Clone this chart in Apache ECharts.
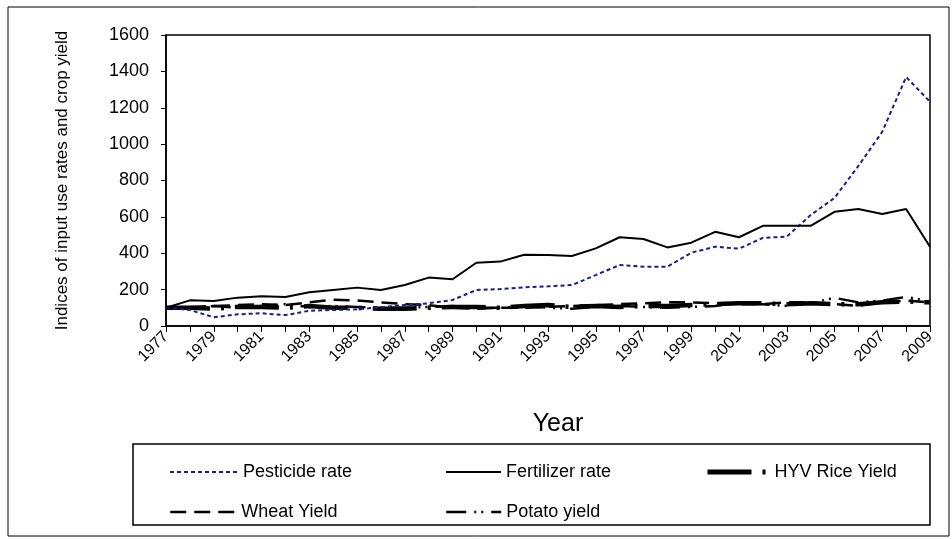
<!DOCTYPE html>
<html>
<head>
<meta charset="utf-8">
<script src="https://cdn.jsdelivr.net/npm/echarts@6/dist/echarts.min.js"></script>
<style>
  html, body { margin: 0; padding: 0; background: #fff; }
  #chart { width: 952px; height: 539px; }
</style>
</head>
<body>
<div id="chart"></div>
<script>
// years on the x axis
var years = [];
for (var y = 1977; y <= 2009; y++) years.push(String(y));

// index values (1977 = 100)
var pesticideRate = [100, 88, 48, 64, 70, 60, 84, 88, 92, 103, 115, 125, 143, 198, 203, 213, 218, 225, 280, 335, 326, 326, 403, 436, 425, 485, 491, 610, 704, 880, 1068, 1369, 1233];
var fertilizerRate = [100, 141, 137, 156, 163, 159, 185, 198, 211, 198, 225, 266, 257, 348, 354, 392, 390, 385, 427, 488, 478, 432, 458, 518, 488, 551, 551, 551, 628, 643, 616, 643, 436];
var riceYield = [100, 100, 95, 105, 105, 100, 110, 100, 100, 95, 95, 100, 105, 105, 100, 110, 115, 105, 110, 105, 110, 110, 115, 120, 125, 125, 120, 125, 120, 120, 130, 135, 130];
var wheatYield = [100, 105, 110, 115, 120, 115, 130, 145, 140, 130, 120, 115, 100, 95, 100, 100, 105, 110, 115, 120, 125, 130, 130, 125, 120, 120, 130, 130, 120, 110, 130, 140, 130];
var potatoYield = [100, 95, 110, 100, 110, 120, 105, 110, 105, 100, 100, 105, 110, 100, 100, 110, 100, 95, 105, 110, 105, 100, 105, 110, 130, 120, 110, 125, 155, 130, 140, 160, 135];

var yTicks = { min: 0, max: 1600, interval: 200 };

var chart = echarts.init(document.getElementById('chart'));
var font = 'Liberation Sans, Arial, sans-serif';

// one legend per entry so each sits where it does in the figure
function legendAt(name, left, top, w, lw) {
    return {
        data: [name],
        left: left,
        top: top,
        itemWidth: w,
        itemHeight: 14,
        itemGap: 0,
        itemStyle: { color: 'transparent', borderWidth: 0, opacity: 0 },
        lineStyle: { width: lw },
        textStyle: { fontFamily: font, fontSize: 18, color: '#000' },
        selectedMode: false
    };
}

var option = {
    animation: false,
    backgroundColor: '#fff',
    textStyle: { fontFamily: font },
    graphic: [
        { type: 'rect', shape: { x: 8, y: 7, width: 941, height: 529 }, style: { fill: null, stroke: '#000', lineWidth: 1 } },
        { type: 'rect', shape: { x: 133, y: 444, width: 797, height: 81 }, style: { fill: null, stroke: '#000', lineWidth: 1.5 } }
    ],
    grid: {
        left: 166, right: 22, top: 35, bottom: 213,
        show: true, borderColor: '#000', borderWidth: 1.5, backgroundColor: 'transparent'
    },
    legend: [
        legendAt('Pesticide rate', 164, 458, 68, 2),
        legendAt('Fertilizer rate', 440, 458, 55, 2),
        legendAt('HYV Rice Yield', 700, 458, 62, 5),
        legendAt('Wheat Yield', 164, 498, 66, 2.5),
        legendAt('Potato yield', 440, 498, 55, 2.5)
    ],
    xAxis: {
        type: 'category',
        data: years,
        boundaryGap: false,
        name: 'Year',
        nameLocation: 'middle',
        nameGap: 86,
        nameTextStyle: { fontFamily: font, fontSize: 25, color: '#000', padding: [0, 0, 0, 20] },
        axisLine: { lineStyle: { color: '#000', width: 1.5 } },
        axisTick: { show: true, interval: 0, length: 6, lineStyle: { color: '#000' } },
        axisLabel: { interval: 1, rotate: 45, fontSize: 16, color: '#000', fontFamily: font, margin: 8 },
        splitLine: { show: false }
    },
    yAxis: {
        type: 'value',
        min: yTicks.min,
        max: yTicks.max,
        interval: yTicks.interval,
        name: 'Indices of input use rates and crop yield',
        nameLocation: 'middle',
        nameGap: 95,
        nameTextStyle: { fontFamily: font, fontSize: 17, color: '#000' },
        axisLine: { show: true, lineStyle: { color: '#000', width: 1.5 } },
        axisTick: { show: true, length: 5, lineStyle: { color: '#000' } },
        axisLabel: { fontSize: 18, color: '#000', fontFamily: font, margin: 17, formatter: function (v) { return String(v); } },
        splitLine: { show: false }
    },
    series: [
        {
            name: 'Pesticide rate', type: 'line', data: pesticideRate, symbol: 'none', z: 5,
            itemStyle: { color: '#1c1c8a' },
            lineStyle: { color: '#1c1c8a', width: 2, type: [4, 3] }
        },
        {
            name: 'Fertilizer rate', type: 'line', data: fertilizerRate, symbol: 'none', z: 5,
            itemStyle: { color: '#000' },
            lineStyle: { color: '#000', width: 2 }
        },
        {
            name: 'HYV Rice Yield', type: 'line', data: riceYield, symbol: 'none',
            itemStyle: { color: '#000' },
            lineStyle: { color: '#000', width: 4.5, type: [44, 11, 3, 11] }
        },
        {
            name: 'Wheat Yield', type: 'line', data: wheatYield, symbol: 'none',
            itemStyle: { color: '#000' },
            lineStyle: { color: '#000', width: 2.5, type: [16, 8] }
        },
        {
            name: 'Potato yield', type: 'line', data: potatoYield, symbol: 'none',
            itemStyle: { color: '#000' },
            lineStyle: { color: '#000', width: 2.5, type: [20, 8, 2, 5, 2, 8] }
        }
    ]
};

chart.setOption(option);
</script>
</body>
</html>
